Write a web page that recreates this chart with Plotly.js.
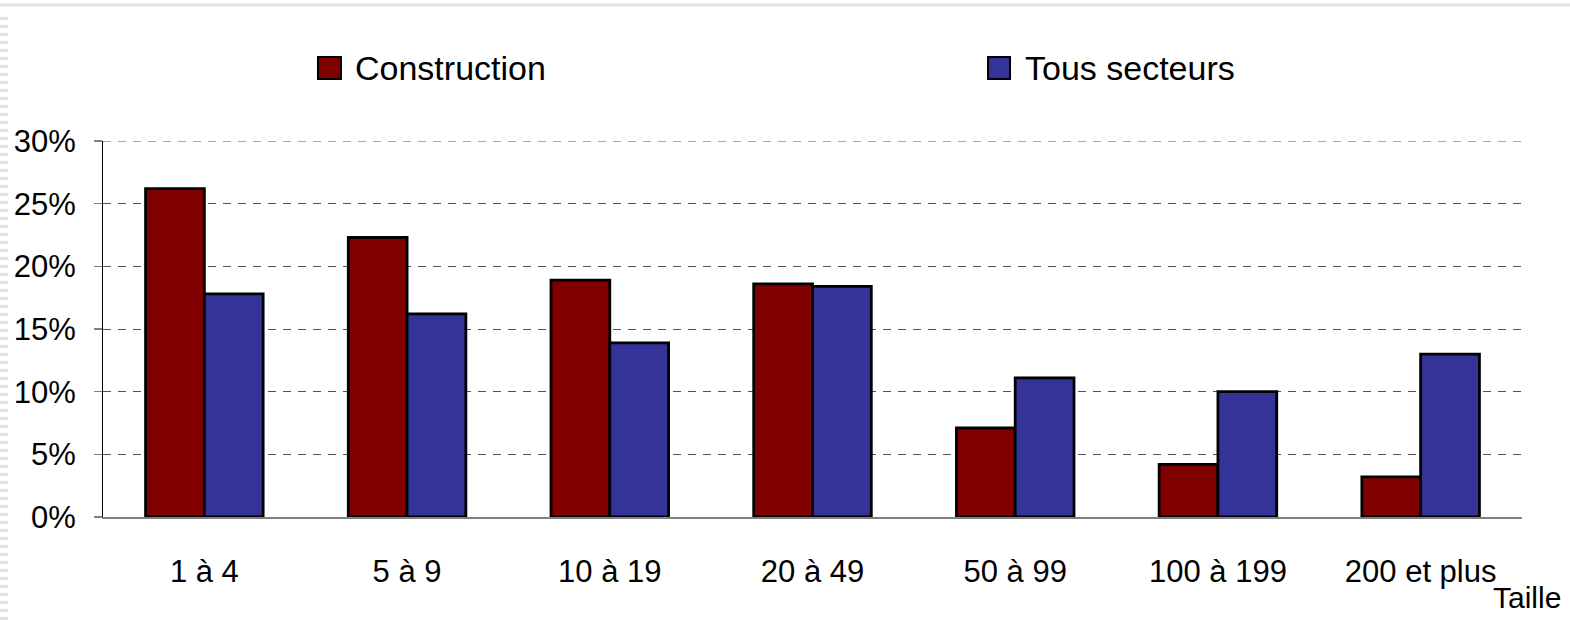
<!DOCTYPE html>
<html>
<head>
<meta charset="utf-8">
<script src="https://cdn.plot.ly/plotly-3.0.1.min.js"></script>
<style>html,body{margin:0;padding:0;background:#fff;}#chart{width:1570px;height:620px;}</style>
</head>
<body>
<div id="chart"></div>
<script>
const categories = ["1 à 4", "5 à 9", "10 à 19", "20 à 49", "50 à 99", "100 à 199", "200 et plus"];
const seriesNames = ["Construction", "Tous secteurs"];
const construction = [26.2, 22.3, 18.9, 18.6, 7.1, 4.2, 3.2];
const tousSecteurs = [17.8, 16.2, 13.9, 18.4, 11.1, 10.0, 13.0];
const colors = ["#800000", "#333399"];
const yTicks = [0, 5, 10, 15, 20, 25, 30];
const yTickLabels = ["0%", "5%", "10%", "15%", "20%", "25%", "30%"];
const xAxisLabel = "Taille";

const FONT = "Liberation Sans, Arial, sans-serif";
const GRID = "#505050";

const traces = [construction, tousSecteurs].map((vals, i) => ({
  type: "bar",
  name: seriesNames[i],
  x: categories,
  y: vals,
  marker: {color: colors[i], line: {color: "#000", width: 2.8}},
  hoverinfo: "x+y"
}));

// legend drawn as shapes + annotations (large square swatches)
const legendPos = [{x0: 0.1515, x1: 0.1677, tx: 0.1761}, {x0: 0.6237, x1: 0.6392, tx: 0.6483}];
const shapes = [];
const annotations = [];

// top gridline (at the range edge, which Plotly does not draw)
shapes.push({type: "line", xref: "paper", yref: "y", x0: 0, x1: 1,
  y0: yTicks[yTicks.length - 1], y1: yTicks[yTicks.length - 1],
  line: {color: GRID, width: 1, dash: "8px,7px"}, layer: "below"});

legendPos.forEach((p, i) => {
  shapes.push({type: "rect", xref: "paper", yref: "paper", x0: p.x0, x1: p.x1, y0: 1.165, y1: 1.2236,
    fillcolor: colors[i], line: {color: "#000", width: 2}});
  annotations.push({xref: "paper", yref: "paper", x: p.tx, y: 1.1937, xanchor: "left", yanchor: "middle",
    text: seriesNames[i], showarrow: false, font: {family: FONT, size: 34, color: "#000"}});
});
annotations.push({xref: "paper", yref: "paper", x: 1.029, y: -0.2137, xanchor: "right", yanchor: "middle",
  text: xAxisLabel, showarrow: false, font: {family: FONT, size: 30, color: "#000"}});

// slide frame artifacts
shapes.push({type: "line", xref: "paper", yref: "paper", x0: -0.0726, x1: 1.034, y0: 1.362, y1: 1.362,
  line: {color: "#e4e4e4", width: 3}});
shapes.push({type: "line", xref: "paper", yref: "paper", x0: -0.0698, x1: -0.0698, y0: -0.274, y1: 1.34,
  line: {color: "#e0e0e0", width: 8, dash: "3px,5px"}});

const layout = {
  width: 1570, height: 620,
  margin: {l: 103, r: 48, t: 141, b: 103},
  paper_bgcolor: "#fff", plot_bgcolor: "#fff",
  showlegend: false,
  barmode: "group",
  bargap: 0.42,
  bargroupgap: 0,
  font: {family: FONT, size: 30, color: "#000"},
  xaxis: {
    type: "category",
    showline: true, linecolor: "#808080", linewidth: 2,
    ticks: "", showgrid: false, zeroline: false,
    tickfont: {family: FONT, size: 31, color: "#000"},
    ticklabelstandoff: 26
  },
  yaxis: {
    range: [0, 30], tickmode: "array", tickvals: yTicks, ticktext: yTickLabels,
    showline: true, linecolor: "#000", linewidth: 1,
    ticks: "outside", ticklen: 8, tickcolor: "#808080", tickwidth: 1.5,
    showgrid: true, gridcolor: GRID, gridwidth: 1, griddash: "8px,7px",
    zeroline: false,
    tickfont: {family: FONT, size: 31, color: "#000"},
    ticklabelstandoff: 12
  },
  shapes: shapes,
  annotations: annotations
};

Plotly.newPlot("chart", traces, layout, {displayModeBar: false, staticPlot: true});
</script>
</body>
</html>
